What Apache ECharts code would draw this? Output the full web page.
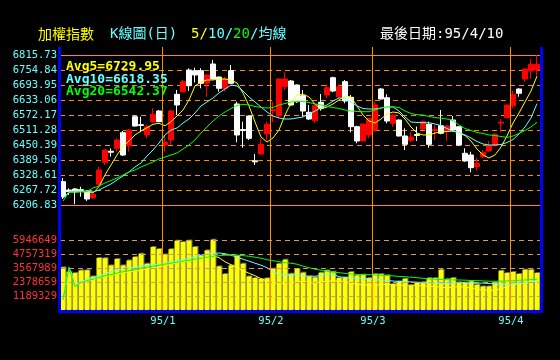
<!DOCTYPE html>
<html><head><meta charset="utf-8">
<script src="https://cdn.jsdelivr.net/npm/echarts@6/dist/echarts.min.js"></script>
<style>html,body{margin:0;padding:0;background:#000;}#c{width:560px;height:360px;}</style>
</head><body><div id="c"></div>
<script>
const dates = [
'94/12/08','94/12/09','94/12/12','94/12/13','94/12/14','94/12/15','94/12/16','94/12/19','94/12/20','94/12/21','94/12/22','94/12/23','94/12/26','94/12/27','94/12/28','94/12/29','94/12/30',
'95/01/02','95/01/03','95/01/04','95/01/05','95/01/06','95/01/09','95/01/10','95/01/11','95/01/12','95/01/13','95/01/16','95/01/17','95/01/18','95/01/19','95/01/20','95/01/23','95/01/24','95/01/25',
'95/02/03','95/02/06','95/02/07','95/02/08','95/02/09','95/02/10','95/02/13','95/02/14','95/02/15','95/02/16','95/02/17','95/02/20','95/02/21','95/02/22','95/02/23','95/02/24','95/02/27',
'95/03/01','95/03/02','95/03/03','95/03/06','95/03/07','95/03/08','95/03/09','95/03/10','95/03/13','95/03/14','95/03/15','95/03/16','95/03/17','95/03/20','95/03/21','95/03/22','95/03/23','95/03/24','95/03/27','95/03/28','95/03/29','95/03/30','95/03/31',
'95/04/03','95/04/04','95/04/06','95/04/07','95/04/10'];

const opens = [6301.4,6267.7,6271.8,6269.0,6260.8,6236.5,6290.9,6380.2,6425.0,6437.0,
6500.3,6447.6,6565.3,6533.0,6491.0,6545.0,6588.4,6450.4,6470.7,6656.2,
6666.8,6754.8,6752.0,6752.0,6700.9,6779.2,6726.4,6680.6,6752.0,6616.8,
6513.0,6568.1,6386.0,6413.9,6495.1,6590.0,6568.1,6687.1,6710.2,6694.0,
6650.5,6583.1,6549.0,6623.7,6653.4,6723.6,6646.5,6707.4,6644.0,6524.7,
6466.6,6491.0,6511.3,6677.7,6642.4,6538.5,6551.9,6486.9,6469.5,6493.0,
6515.4,6534.4,6509.0,6528.7,6507.2,6551.9,6524.7,6416.7,6409.8,6362.3,
6402.9,6426.0,6447.6,6539.0,6561.2,6609.9,6677.7,6718.3,6750.8,6754.8];
const closes = [6240.5,6261.0,6260.8,6266.0,6231.2,6250.3,6348.9,6430.1,6421.0,6470.7,
6409.8,6511.3,6527.5,6530.0,6524.7,6575.0,6545.0,6461.4,6588.4,6612.8,
6707.4,6691.1,6734.6,6700.9,6734.6,6718.3,6680.6,6718.3,6700.9,6491.0,
6509.0,6477.6,6382.0,6453.2,6534.4,6594.0,6718.3,6718.3,6612.8,6626.2,
6588.4,6555.9,6609.9,6599.4,6683.0,6669.6,6687.1,6629.0,6524.7,6466.6,
6535.6,6558.8,6612.8,6637.1,6547.8,6572.2,6486.9,6453.2,6482.9,6489.0,
6545.0,6453.2,6513.0,6497.9,6527.5,6511.3,6450.4,6385.5,6358.3,6376.1,
6420.8,6447.6,6493.8,6543.0,6612.8,6656.2,6660.3,6758.9,6778.0,6778.0];
const lows = [6231.2,6247.4,6210.0,6240.5,6223.1,6231.2,6284.0,6369.2,6402.9,6423.2,
6405.7,6423.2,6525.0,6502.0,6477.6,6538.5,6543.8,6423.2,6450.4,6572.2,
6664.3,6669.6,6704.9,6680.6,6646.5,6716.0,6666.8,6666.8,6698.0,6461.4,
6439.4,6470.7,6369.2,6411.0,6470.7,6542.5,6561.2,6673.7,6608.7,6620.9,
6565.3,6551.9,6539.7,6589.6,6640.0,6664.3,6641.2,6619.7,6502.0,6457.3,
6464.0,6477.6,6504.4,6635.0,6538.5,6524.7,6485.0,6430.1,6461.4,6466.6,
6511.3,6439.4,6470.7,6493.8,6466.6,6504.4,6448.0,6382.6,6339.6,6346.1,
6396.4,6423.2,6443.5,6502.0,6559.0,6599.4,6646.5,6707.4,6718.3,6731.7];
const highs = [6316.4,6274.6,6275.9,6281.1,6267.7,6254.3,6362.3,6434.2,6437.0,6477.6,
6507.2,6515.4,6572.2,6565.3,6531.6,6599.4,6592.5,6491.0,6592.5,6673.7,
6714.3,6761.7,6764.2,6761.7,6737.0,6795.4,6728.0,6727.7,6775.1,6626.2,
6545.0,6570.0,6413.9,6477.6,6545.0,6626.2,6720.0,6745.5,6714.3,6696.0,
6673.7,6612.8,6620.9,6657.4,6696.8,6727.7,6698.0,6714.3,6653.4,6528.8,
6537.0,6560.0,6626.2,6681.8,6656.2,6574.0,6554.0,6518.2,6502.0,6524.7,
6547.8,6545.0,6531.6,6592.5,6531.6,6568.1,6527.0,6437.0,6423.2,6398.8,
6430.1,6466.6,6497.9,6555.9,6615.0,6669.6,6680.6,6761.0,6799.5,6815.0];

const ma5 = [6235.3,6259.6,6259.6,6261.6,6259.6,6255.6,6281.1,6328.6,6369.2,6409.8,
6443.5,6466.6,6491.0,6507.2,6520.6,6534.4,6538.5,6528.7,6545.0,6568.1,
6592.5,6633.1,6689.9,6706.1,6714.3,6714.3,6718.3,6718.3,6714.3,6702.1,
6661.5,6608.7,6543.8,6482.9,6462.6,6478.8,6511.3,6572.2,6620.9,6653.4,
6657.4,6645.2,6616.8,6596.5,6604.7,6616.8,6633.1,6649.3,6645.2,6608.7,
6572.2,6547.8,6539.7,6555.9,6576.2,6584.4,6580.3,6555.9,6523.5,6499.1,
6491.0,6491.0,6499.1,6503.2,6505.2,6507.2,6499.1,6489.0,6466.6,6434.2,
6409.8,6397.6,6409.8,6442.3,6486.9,6539.7,6580.3,6625.0,6669.6,6729.95];
const ma10 = [6235.3,6259.6,6263.7,6263.7,6263.7,6259.6,6267.7,6279.9,6292.1,6308.3,
6324.6,6340.8,6361.1,6377.3,6405.7,6430.1,6458.5,6491.0,6511.3,6519.4,
6539.7,6555.9,6580.3,6608.7,6625.0,6641.2,6661.5,6677.7,6694.0,6689.9,
6669.6,6645.2,6625.0,6604.7,6584.4,6568.1,6560.0,6555.9,6555.9,6560.0,
6564.1,6576.2,6588.4,6600.6,6612.8,6629.0,6641.2,6641.2,6625.0,6608.7,
6598.6,6596.5,6596.5,6600.6,6604.7,6604.7,6588.4,6564.1,6543.8,6541.7,
6540.9,6540.9,6535.6,6529.6,6517.4,6507.2,6501.1,6491.0,6478.8,6464.6,
6454.5,6450.4,6450.4,6452.4,6460.5,6472.7,6495.1,6523.5,6560.0,6618.35];
const ma20 = [6223.1,6259.6,6259.6,6259.6,6261.6,6275.9,6284.0,6296.1,6306.3,6316.4,
6328.6,6340.8,6348.9,6361.1,6371.2,6381.4,6393.6,6401.7,6409.8,6417.9,
6434.2,6450.4,6470.7,6499.1,6523.5,6547.8,6568.1,6584.4,6598.6,6610.7,
6615.6,6612.8,6606.7,6602.6,6600.6,6602.6,6612.8,6618.9,6625.0,6627.0,
6627.0,6622.9,6616.8,6612.8,6606.7,6602.6,6598.6,6592.5,6588.4,6586.4,
6585.6,6585.6,6592.5,6600.6,6604.7,6605.9,6602.6,6588.4,6578.3,6573.4,
6572.2,6566.1,6562.0,6558.8,6555.9,6549.9,6531.6,6517.4,6509.3,6501.1,
6497.1,6491.0,6489.0,6484.9,6480.8,6486.9,6497.1,6509.3,6523.5,6542.37];

// volumes in thousands
const volK = [3619,3228,3143,3364,3380,2854,4418,4400,3789,4333,
3790,4214,4502,4783,3933,5352,5182,4723,5170,5887,
5777,5900,5360,4613,5063,5972,3704,3058,3789,4613,
3933,2854,2718,2634,2700,3509,3933,4273,3084,3483,
3169,2854,2769,3169,3364,3254,2718,2769,3228,2939,
2999,2720,3058,3050,2950,2209,2430,2659,2090,2294,
2379,2718,2710,3424,2634,2725,2345,2340,2430,2149,
2005,2010,2345,3339,3143,3228,3058,3424,3420,3143];
const volMa5K = [875,3593,2149,2404,2489,2574,2701,2829,2956,3041,
3169,3254,3296,3381,3466,3551,3678,3763,3891,4018,
4103,4188,4316,4400,4485,4613,4443,4103,3848,3593,
3339,3126,2914,2659,2447,2319,2294,2294,2319,2404,
2447,2319,2277,2404,2447,2464,2447,2362,2277,2192,
2149,2107,2107,2149,2192,2149,2107,2107,2107,2107,
2064,2022,1979,1937,1894,1937,1979,1937,1852,1767,
1699,1657,1682,1809,1979,2149,2234,2319,2404,2447];
const volMa10K = [875,3593,2149,2404,2574,2744,2871,3084,3254,3381,
3509,3593,3636,3721,3789,3848,3891,3976,4061,4188,
4273,4400,4528,4655,4757,4825,4842,4783,4655,4485,
4316,4146,3976,3806,3593,3254,2999,2999,2999,2973,
2914,2871,2871,2939,2999,3041,2829,2769,2727,2684,
2659,2617,2574,2549,2506,2464,2430,2404,2387,2362,
2336,2302,2277,2251,2217,2277,2362,2302,2260,2277,
2285,2251,2209,2183,2149,2192,2260,2319,2404,2489];
const volMa20K = [875,3593,1979,2319,2489,2617,2744,2914,2999,3126,
3254,3339,3424,3551,3636,3721,3806,3891,3976,4061,
4146,4231,4316,4400,4485,4570,4613,4655,4655,4655,
4613,4570,4485,4400,4273,4188,4103,4018,3976,3891,
3721,3593,3466,3381,3296,3211,3169,3109,3058,3024,
2999,2999,2973,2948,2931,2897,2854,2829,2786,2744,
2693,2633,2608,2591,2574,2557,2549,2532,2506,2489,
2472,2447,2438,2447,2472,2489,2523,2549,2574,2617];

const priceTicks = ['6206.83','6267.72','6328.61','6389.50','6450.39','6511.28','6572.17','6633.06','6693.95','6754.84','6815.73'];
const volTicks = ['1189329','2378659','3567989','4757319','5946649'];

const YEL='#ffff00', CYA='#66ffff', GRN='#00ff00', RED='#ff0000', ORG='#ff8c00', BLU='#0000ff';
const MONO='"DejaVu Sans Mono", monospace';

const toV = a => a.map(v => v * 1000);
const candleData = opens.map((o, i) => [o, closes[i], lows[i], highs[i]]);
const pMin = parseFloat(priceTicks[0]), pMax = parseFloat(priceTicks[priceTicks.length - 1]);
const vStep = parseFloat(volTicks[volTicks.length - 1]) / volTicks.length;
const vMax = vStep * (volTicks.length + 1);

const chart = echarts.init(document.getElementById('c'), null, {renderer: 'canvas'});

const lineS = (name, data, color, xi, yi) => ({
  type: 'line', name, data, xAxisIndex: xi, yAxisIndex: yi, symbol: 'none',
  lineStyle: {color, width: 1}, itemStyle: {color}, silent: true, z: 3
});

const txt = (id, text, x, y, color, font) => ({
  type: 'text', id, x, y, z: 50,
  style: {text, fill: color, font, align: 'left', verticalAlign: 'middle', textAlign: 'left', textVerticalAlign: 'middle'}
});

chart.setOption({
  backgroundColor: '#000',
  animation: false,
  grid: [
    {left: 60, right: 20, top: 55, height: 150, containLabel: false, outerBoundsMode: 'none'},
    {left: 60, right: 20, top: 226, height: 84, containLabel: false, outerBoundsMode: 'none'}
  ],
  xAxis: [
    {type: 'category', gridIndex: 0, data: dates, boundaryGap: true, position: 'bottom',
     axisLine: {lineStyle: {color: ORG, width: 1}}, axisTick: {show: false}, axisLabel: {show: false}, splitLine: {show: false}},
    {type: 'category', gridIndex: 0, data: dates, boundaryGap: true, position: 'top',
     axisLine: {lineStyle: {color: ORG, width: 1}}, axisTick: {show: false}, axisLabel: {show: false}, splitLine: {show: false}},
    {type: 'category', gridIndex: 1, data: dates, boundaryGap: true, position: 'bottom',
     axisLine: {show: false}, axisTick: {show: false}, axisLabel: {show: false}, splitLine: {show: false}}
  ],
  yAxis: [
    {type: 'value', gridIndex: 0, position: 'right', min: pMin, max: pMax, show: false, splitLine: {show: false}},
    {type: 'value', gridIndex: 0, position: 'left', min: 0, max: priceTicks.length - 1, interval: 1,
     axisLine: {show: false}, axisTick: {show: false},
     axisLabel: {color: CYA, fontFamily: MONO, fontSize: 10.5, margin: 3, formatter: v => priceTicks[Math.round(v)] || ''},
     splitLine: {show: true, lineStyle: {color: ORG, width: 1, type: [5, 4]}}},
    {type: 'value', gridIndex: 1, position: 'right', min: 0, max: vMax, show: false, splitLine: {show: false}},
    {type: 'value', gridIndex: 1, position: 'left', min: 0, max: volTicks.length + 1, interval: 1, z: 5,
     axisLine: {show: false}, axisTick: {show: false},
     axisLabel: {color: '#ff3333', fontFamily: MONO, fontSize: 10.5, margin: 3,
       formatter: v => { const k = Math.round(v); return (k >= 1 && k <= volTicks.length) ? volTicks[k - 1] : ''; }},
     splitLine: {show: true, showMinLine: false, showMaxLine: false, lineStyle: {color: '#c8a064', width: 1, type: [5, 4]}}}
  ],
  series: [
    {type: 'candlestick', data: candleData, xAxisIndex: 0, yAxisIndex: 0, barWidth: 5, silent: true, z: 2,
     itemStyle: {color: RED, color0: '#ffffff', borderColor: RED, borderColor0: '#ffffff', borderWidth: 1}},
    lineS('MA5', ma5, YEL, 0, 0),
    lineS('MA10', ma10, CYA, 0, 0),
    lineS('MA20', ma20, GRN, 0, 0),
    {type: 'bar', data: toV(volK), xAxisIndex: 2, yAxisIndex: 2, barWidth: 5, silent: true, z: 2,
     itemStyle: {color: YEL, shadowColor: '#6a6a6a', shadowOffsetX: 1, shadowOffsetY: -1, shadowBlur: 0}},
    lineS('VMA5', toV(volMa5K), YEL, 2, 2),
    lineS('VMA10', toV(volMa10K), CYA, 2, 2),
    lineS('VMA20', toV(volMa20K), GRN, 2, 2)
  ],
  graphic: [
    txt('t1', '加權指數', 38, 34, YEL, '14px "Noto Sans CJK TC"'),
    txt('t2', 'K線圖(日)', 110, 34, CYA, '14px ' + MONO + ', "Noto Sans CJK TC"'),
    txt('t3a', '5/', 191, 34, YEL, '14px ' + MONO),
    txt('t3b', '10/', 208, 34, CYA, '14px ' + MONO),
    txt('t3c', '20', 233, 34, GRN, '14px ' + MONO),
    txt('t3d', '/均線', 250, 34, CYA, '14px ' + MONO + ', "Noto Sans CJK TC"'),
    txt('t4', '最後日期:' + '95/4/10', 380, 34, '#ffffff', '14px ' + MONO + ', "Noto Sans CJK TC"'),
    txt('a5', 'Avg5=' + ma5[ma5.length - 1].toFixed(2), 66, 67, YEL, 'bold 13px ' + MONO),
    txt('a10', 'Avg10=' + ma10[ma10.length - 1].toFixed(2), 66, 80, CYA, 'bold 13px ' + MONO),
    txt('a20', 'Avg20=' + ma20[ma20.length - 1].toFixed(2), 66, 92, GRN, 'bold 13px ' + MONO)
  ]
});

// month separators derived from the dates
const monthStarts = [];
dates.forEach((d, i) => {
  if (i > 0 && d.slice(0, 5) !== dates[i - 1].slice(0, 5)) {
    const p = d.split('/');
    monthStarts.push({i, label: p[0] + '/' + parseInt(p[1], 10)});
  }
});
const c0 = chart.convertToPixel({xAxisIndex: 0}, 0);
const c1 = chart.convertToPixel({xAxisIndex: 0}, 1);
const band = c1 - c0;
const g = [];
monthStarts.forEach((m, k) => {
  const x = Math.round(chart.convertToPixel({xAxisIndex: 0}, m.i) - band / 2) + 0.5;
  g.push({type: 'line', id: 'ml' + k, z: 40, shape: {x1: x, y1: 47, x2: x, y2: 310}, style: {stroke: ORG, lineWidth: 1}});
  g.push({type: 'text', id: 'mt' + k, z: 40, x: x + 0.5, y: 321,
    style: {text: m.label, fill: CYA, font: '10.5px ' + MONO, align: 'center', verticalAlign: 'middle', textAlign: 'center', textVerticalAlign: 'middle'}});
});
g.push({type: 'rect', id: 'bl', z: 60, shape: {x: 58, y: 47, width: 3, height: 266}, style: {fill: BLU}});
g.push({type: 'rect', id: 'br', z: 60, shape: {x: 540, y: 47, width: 3, height: 266}, style: {fill: BLU}});
g.push({type: 'rect', id: 'bb', z: 60, shape: {x: 58, y: 310, width: 485, height: 3}, style: {fill: BLU}});
chart.setOption({graphic: g});
</script>
</body></html>
